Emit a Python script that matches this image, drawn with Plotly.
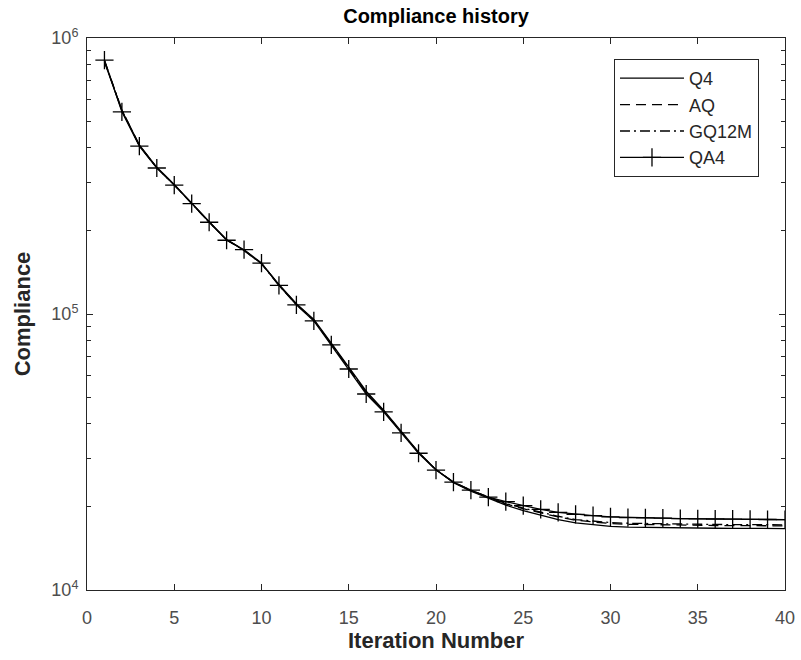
import plotly.graph_objects as go

# Iteration numbers and compliance history for each element formulation
iterations = list(range(1, 41))

q4 = [820000, 545000, 410000, 340000, 295000, 252000, 216000, 186000, 170000, 152000,
      128000, 109000, 95500, 78500, 64500, 52500, 44800, 37500, 31600, 27300,
      24500, 22800, 21500, 20300, 19400, 18700, 18000, 17500, 17200, 17000,
      16900, 16850, 16800, 16780, 16760, 16740, 16720, 16710, 16700, 16700]

aq = [825000, 548000, 408000, 339000, 294000, 251000, 215000, 186000, 170500, 152500,
      127500, 108500, 95000, 78000, 64000, 52000, 44500, 37300, 31500, 27300,
      24600, 22900, 21600, 20500, 19700, 19000, 18400, 17900, 17600, 17400,
      17300, 17250, 17200, 17180, 17150, 17130, 17110, 17100, 17090, 17080]

gq12m = [828000, 550000, 407000, 338500, 293500, 250500, 215000, 185500, 170000, 152000,
         127000, 108000, 94800, 77800, 63800, 51800, 44400, 37200, 31400, 27250,
         24600, 22950, 21700, 20600, 19800, 19100, 18500, 18000, 17750, 17550,
         17450, 17400, 17350, 17320, 17300, 17280, 17260, 17250, 17240, 17230]

qa4 = [832000, 540000, 406000, 338000, 293000, 251000, 215000, 185000, 171000, 153000,
       127000, 108000, 94400, 77300, 63200, 51300, 44200, 37100, 31300, 27200,
       24600, 23000, 21700, 20900, 20200, 19600, 19100, 18800, 18600, 18400,
       18300, 18250, 18200, 18150, 18100, 18080, 18050, 18030, 18010, 18000]

x_ticks = [0, 5, 10, 15, 20, 25, 30, 35, 40]
y_ticks = [1e4, 1e5, 1e6]
y_tick_labels = ["10<sup>4</sup>", "10<sup>5</sup>", "10<sup>6</sup>"]
y_minor_ticks = [m * 10 ** e for e in (4, 5) for m in range(2, 10)]

FONT = "Liberation Sans, Arial, sans-serif"
LINE_W = 1.3
AXIS_COLOR = "#262626"
TICK_COLOR = "#4d4d4d"

fig = go.Figure()
fig.add_trace(go.Scatter(x=iterations, y=q4, name="Q4", mode="lines",
                         line=dict(color="black", width=LINE_W)))
fig.add_trace(go.Scatter(x=iterations, y=aq, name="AQ", mode="lines",
                         line=dict(color="black", width=LINE_W, dash="10px,6px")))
fig.add_trace(go.Scatter(x=iterations, y=gq12m, name="GQ12M", mode="lines",
                         line=dict(color="black", width=LINE_W, dash="10px,4px,2px,4px")))
fig.add_trace(go.Scatter(x=iterations, y=qa4, name="QA4", mode="lines+markers",
                         line=dict(color="black", width=LINE_W),
                         marker=dict(symbol="cross-thin", size=13, color="black",
                                     line=dict(color="black", width=1.3))))
# empty trace that carries the overlay axis used for the minor log ticks
fig.add_trace(go.Scatter(x=[], y=[], yaxis="y2", showlegend=False, hoverinfo="skip"))

fig.update_layout(
    width=801, height=660,
    margin=dict(l=87, r=16, t=38, b=70),
    paper_bgcolor="white", plot_bgcolor="white",
    font=dict(family=FONT, size=18, color=AXIS_COLOR),
    title=dict(text="<b>Compliance history</b>", x=(87 + 785) / 2 / 801, xanchor="center",
               y=1 - 16 / 660, yanchor="middle",
               font=dict(family=FONT, size=20, color="black")),
    showlegend=True,
    legend=dict(x=0.755, y=0.962, xanchor="left", yanchor="top",
                bgcolor="white", bordercolor=AXIS_COLOR, borderwidth=1,
                font=dict(family=FONT, size=18, color=AXIS_COLOR),
                itemwidth=64),
    yaxis2=dict(
        type="log", range=[4, 6], overlaying="y", side="left", anchor="x",
        tickvals=y_minor_ticks, showticklabels=False,
        ticks="inside", ticklen=4, tickcolor=AXIS_COLOR,
        showline=True, linecolor=AXIS_COLOR, linewidth=1, mirror="ticks",
        showgrid=False, zeroline=False, automargin=False,
    ),
)

fig.update_xaxes(
    range=[0, 40], tickvals=x_ticks, ticks="inside", ticklen=6, tickcolor=AXIS_COLOR,
    showline=True, linecolor=AXIS_COLOR, linewidth=1, mirror="ticks",
    showgrid=False, zeroline=False, automargin=False,
    tickfont=dict(family=FONT, size=18, color=TICK_COLOR), ticklabelstandoff=11,
    title=dict(text="<b>Iteration Number</b>", standoff=4,
               font=dict(family=FONT, size=22, color=AXIS_COLOR)),
)

fig.layout.yaxis.update(
    type="log", range=[4, 6], tickvals=y_ticks, ticktext=y_tick_labels,
    ticks="inside", ticklen=6, tickcolor=AXIS_COLOR,
    showline=True, linecolor=AXIS_COLOR, linewidth=1, mirror="ticks",
    showgrid=False, zeroline=False, automargin=False,
    tickfont=dict(family=FONT, size=18, color=TICK_COLOR), ticklabelstandoff=4,
    title=dict(text="<b>Compliance</b>", standoff=14,
               font=dict(family=FONT, size=22, color=AXIS_COLOR)),
)

fig.write_html("out.html")
